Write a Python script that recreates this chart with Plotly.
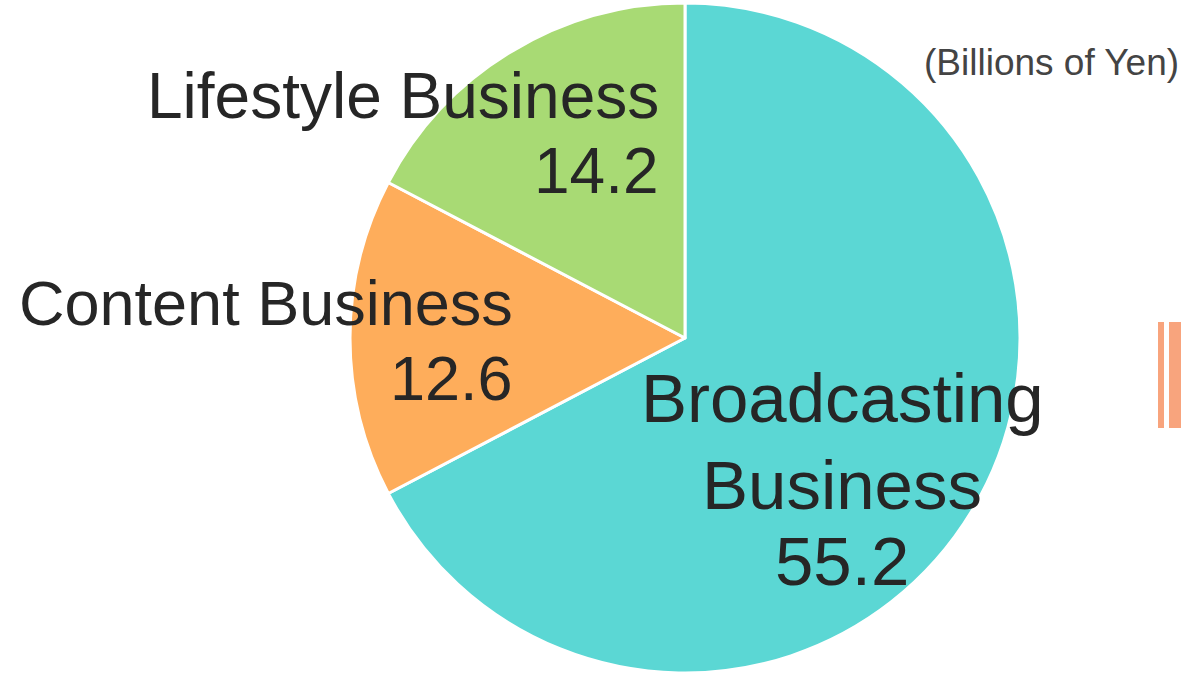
import plotly.graph_objects as go

categories = ["Broadcasting Business", "Content Business", "Lifestyle Business"]
values = [55.2, 12.6, 14.2]
colors = ["#5BD7D4", "#FEAD5B", "#A8DA74"]
unit_label = "(Billions of Yen)"

W, H = 1183, 674
cx, cy, r = 685, 338, 335

fig = go.Figure(go.Pie(
    labels=categories, values=values, sort=False, direction="clockwise", rotation=0,
    marker=dict(colors=colors, line=dict(color="white", width=3)),
    textinfo="none", hoverinfo="label+value", showlegend=False,
    domain=dict(x=[(cx - r) / W, (cx + r) / W], y=[1 - (cy + r) / H, 1 - (cy - r) / H]),
))

txt = "#262626"
def ann(text, x, y, size, xanchor, color=txt):
    fig.add_annotation(text=text, x=x / W, y=1 - y / H, xref="paper", yref="paper",
                       xanchor=xanchor, yanchor="middle", showarrow=False,
                       font=dict(family="Liberation Sans, Arial", size=size, color=color))

# Lifestyle
ann(categories[2], 661, 96, 64, "right")
ann(f"{values[2]:.1f}", 661, 171, 64, "right")
# Content
ann(categories[1], 515, 303, 63, "right")
ann(f"{values[1]:.1f}", 515, 378, 63, "right")
# Broadcasting
ann("Broadcasting", 842, 399, 69, "center")
ann("Business", 842, 485, 69, "center")
ann(f"{values[0]:.1f}", 842, 561, 69, "center")
# unit
ann(unit_label, 1181, 63, 37, "right", color="#444444")

for x0, x1 in [(1158, 1164), (1169, 1181)]:
    fig.add_shape(type="rect", xref="paper", yref="paper",
                  x0=x0 / W, x1=x1 / W, y0=1 - 428 / H, y1=1 - 322 / H,
                  fillcolor="#F8A47D", line=dict(width=0))

fig.update_layout(width=W, height=H, margin=dict(l=0, r=0, t=0, b=0),
                  paper_bgcolor="white", plot_bgcolor="white")
fig.write_html("out.html", config={"displayModeBar": False},
               post_script="document.body.style.margin='0';document.body.style.overflow='hidden';")
